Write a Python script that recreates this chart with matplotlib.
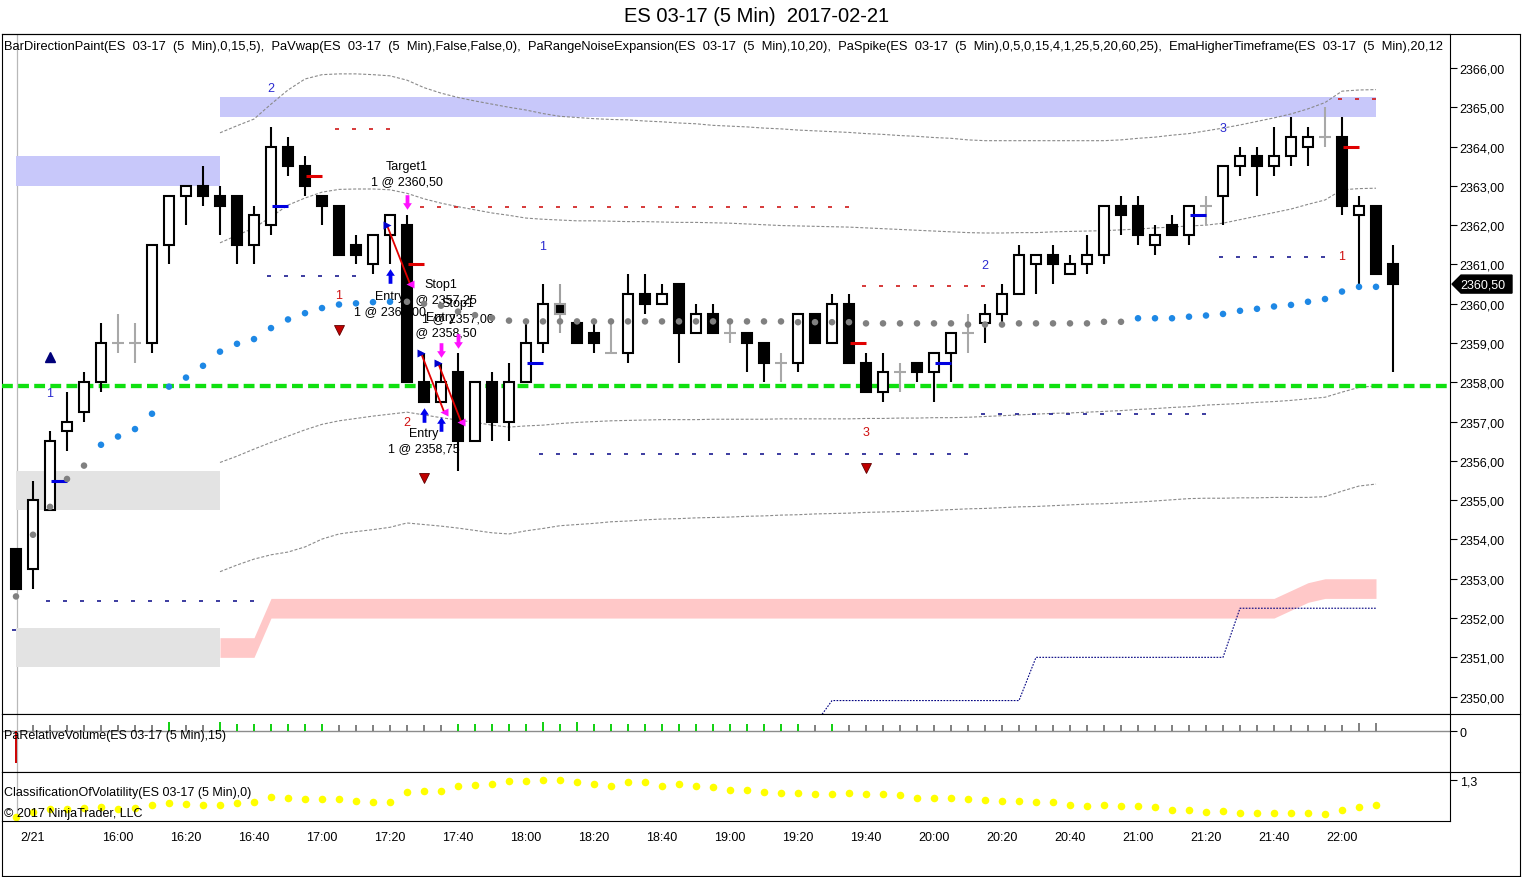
import matplotlib
matplotlib.use("Agg")
import matplotlib.pyplot as plt
import numpy as np
from matplotlib.patches import Rectangle, Polygon
from matplotlib.lines import Line2D
from matplotlib.path import Path
from matplotlib.transforms import blended_transform_factory
from matplotlib.ticker import FuncFormatter

plt.rcParams['font.family'] = ['Liberation Sans', 'DejaVu Sans']
plt.rcParams['lines.scale_dashes'] = False

# ---------------------------------------------------------------- texts
TITLE = "ES 03-17 (5 Min)  2017-02-21"
LEGEND_MAIN = ("BarDirectionPaint(ES  03-17  (5  Min),0,15,5),  PaVwap(ES  03-17  (5  Min),False,False,0),  "
               "PaRangeNoiseExpansion(ES  03-17  (5  Min),10,20),  "
               "PaSpike(ES  03-17  (5  Min),0,5,0,15,4,1,25,5,20,60,25),  "
               "EmaHigherTimeframe(ES  03-17  (5  Min),20,12")
LEGEND_VOL = "PaRelativeVolume(ES 03-17 (5 Min),15)"
LEGEND_VOLAT = "ClassificationOfVolatility(ES 03-17 (5 Min),0)"
COPYRIGHT = "\u00a9 2017 NinjaTrader, LLC"

# ---------------------------------------------------------------- time axis
time_tick_bars = [1, 6, 10, 14, 18, 22, 26, 30, 34, 38, 42, 46, 50, 54, 58, 62, 66, 70, 74, 78]
time_tick_labels = ['2/21', '16:00', '16:20', '16:40', '17:00', '17:20', '17:40', '18:00', '18:20',
                    '18:40', '19:00', '19:20', '19:40', '20:00', '20:20', '20:40', '21:00', '21:20',
                    '21:40', '22:00']

# ---------------------------------------------------------------- OHLC
opens = [2353.75, 2353.25, 2354.75, 2356.75, 2357.25, 2358.0, 2359.0, 2359.0, 2359.0, 2361.5,
         2362.75, 2363.0, 2362.75, 2362.75, 2361.5, 2362.0, 2364.0, 2363.5, 2362.75, 2362.5,
         2361.5, 2361.0, 2361.75, 2362.0, 2358.0, 2357.5, 2358.25, 2356.5, 2358.0, 2357.0,
         2358.0, 2359.0, 2360.0, 2359.5, 2359.25, 2358.75, 2358.75, 2360.25, 2360.0, 2360.5,
         2359.25, 2359.75, 2359.25, 2359.25, 2359.0, 2358.5, 2358.5, 2359.75, 2359.0, 2360.0,
         2358.5, 2357.75, 2358.25, 2358.5, 2358.25, 2358.75, 2359.25, 2359.5, 2359.75, 2360.25,
         2361.0, 2361.25, 2360.75, 2361.0, 2361.25, 2362.5, 2362.5, 2361.5, 2362.0, 2361.75,
         2362.5, 2362.75, 2363.5, 2363.75, 2363.5, 2363.75, 2364.0, 2364.25, 2364.25, 2362.25,
         2362.5, 2361.0]
highs = [2353.75, 2355.5, 2356.75, 2357.75, 2358.25, 2359.5, 2359.75, 2359.5, 2361.5, 2362.75,
         2363.0, 2363.5, 2363.0, 2362.75, 2362.5, 2364.5, 2364.25, 2363.75, 2362.75, 2362.5,
         2361.75, 2361.75, 2362.25, 2362.25, 2358.75, 2358.5, 2358.75, 2358.0, 2358.25, 2358.5,
         2359.5, 2360.5, 2360.5, 2359.5, 2359.5, 2359.5, 2360.75, 2360.75, 2360.5, 2360.5,
         2360.0, 2360.0, 2359.5, 2359.25, 2359.0, 2358.75, 2359.75, 2359.75, 2360.25, 2360.25,
         2358.75, 2358.75, 2358.5, 2358.5, 2358.75, 2359.25, 2359.75, 2360.0, 2360.5, 2361.5,
         2361.25, 2361.5, 2361.25, 2361.75, 2362.5, 2362.75, 2362.75, 2362.0, 2362.25, 2362.5,
         2362.75, 2363.5, 2364.0, 2364.0, 2364.5, 2364.75, 2364.5, 2365.0, 2364.75, 2362.75,
         2362.5, 2361.5]
lows = [2352.75, 2352.75, 2354.75, 2356.25, 2357.0, 2357.75, 2358.75, 2358.5, 2358.75, 2361.0,
        2362.0, 2362.5, 2361.75, 2361.0, 2361.0, 2361.75, 2363.25, 2362.75, 2362.0, 2361.25,
        2361.0, 2360.75, 2361.0, 2358.0, 2357.5, 2357.5, 2355.75, 2356.5, 2356.5, 2356.5,
        2358.0, 2358.75, 2359.25, 2359.0, 2358.75, 2358.75, 2358.5, 2359.75, 2360.0, 2358.5,
        2359.25, 2359.25, 2359.0, 2358.25, 2358.0, 2358.0, 2358.25, 2359.0, 2359.0, 2358.5,
        2357.75, 2357.5, 2357.75, 2358.0, 2357.5, 2358.0, 2358.75, 2359.0, 2359.5, 2360.25,
        2360.25, 2360.5, 2360.75, 2360.75, 2361.0, 2361.75, 2361.5, 2361.25, 2361.75, 2361.5,
        2362.0, 2362.0, 2363.25, 2362.75, 2363.25, 2363.5, 2363.5, 2364.0, 2362.25, 2360.5,
        2360.75, 2358.25]
closes = [2352.75, 2355.0, 2356.5, 2357.0, 2358.0, 2359.0, 2359.0, 2359.0, 2361.5, 2362.75,
          2363.0, 2362.75, 2362.5, 2361.5, 2362.25, 2364.0, 2363.5, 2363.0, 2362.5, 2361.25,
          2361.25, 2361.75, 2362.25, 2358.0, 2357.5, 2358.0, 2356.5, 2358.0, 2357.0, 2358.0,
          2359.0, 2360.0, 2359.75, 2359.0, 2359.0, 2358.75, 2360.25, 2360.0, 2360.25, 2359.25,
          2359.75, 2359.25, 2359.25, 2359.0, 2358.5, 2358.5, 2359.75, 2359.0, 2360.0, 2358.5,
          2357.75, 2358.25, 2358.25, 2358.25, 2358.75, 2359.25, 2359.25, 2359.75, 2360.25, 2361.25,
          2361.25, 2361.0, 2361.0, 2361.25, 2362.5, 2362.25, 2361.75, 2361.75, 2361.75, 2362.5,
          2362.5, 2363.5, 2363.75, 2363.5, 2363.75, 2364.25, 2364.25, 2364.25, 2362.5, 2362.5,
          2360.75, 2360.5]
gray_outline_bars = [32]

# ---------------------------------------------------------------- EMA dots (bars 0..80)
ema = [2352.55, 2354.12, 2354.83, 2355.54, 2355.88, 2356.41, 2356.62, 2356.81, 2357.20, 2357.89,
       2358.12, 2358.42, 2358.78, 2358.98, 2359.10, 2359.38, 2359.60, 2359.76, 2359.89, 2359.98,
       2360.01, 2360.04, 2360.05, 2360.05, 2360.00, 2359.95, 2359.80, 2359.71, 2359.64, 2359.57,
       2359.55, 2359.55, 2359.55, 2359.55, 2359.55, 2359.55, 2359.55, 2359.55, 2359.55, 2359.55,
       2359.55, 2359.55, 2359.55, 2359.55, 2359.55, 2359.55, 2359.53, 2359.53, 2359.53, 2359.53,
       2359.50, 2359.50, 2359.50, 2359.50, 2359.50, 2359.50, 2359.47, 2359.47, 2359.47, 2359.50,
       2359.50, 2359.50, 2359.50, 2359.50, 2359.54, 2359.54, 2359.63, 2359.63, 2359.63, 2359.67,
       2359.70, 2359.74, 2359.82, 2359.87, 2359.93, 2359.97, 2360.05, 2360.12, 2360.31, 2360.43,
       2360.43]
ema_rising = [0, 0, 0, 0, 0, 1, 1, 1, 1, 1, 1, 1, 1, 1, 1, 1, 1, 1, 1, 1,
              1, 1, 1, 0, 0, 0, 0, 0, 0, 0, 0, 0, 0, 0, 0, 0, 0, 0, 0, 0,
              0, 0, 0, 0, 0, 0, 0, 0, 0, 0, 0, 0, 0, 0, 0, 0, 0, 0, 0, 0,
              0, 0, 0, 0, 0, 0, 1, 1, 1, 1, 1, 1, 1, 1, 1, 1, 1, 1, 1, 1,
              1]

# ---------------------------------------------------------------- noise bands (bars 12..80)
band_first_bar = 12
band_top = [2364.35, 2364.53, 2364.70, 2365.08, 2365.44, 2365.72, 2365.83, 2365.85, 2365.85, 2365.83,
            2365.80, 2365.69, 2365.50, 2365.36, 2365.25, 2365.16, 2365.08, 2365.00, 2364.93, 2364.84,
            2364.77, 2364.74, 2364.71, 2364.69, 2364.68, 2364.65, 2364.63, 2364.60, 2364.58, 2364.54,
            2364.52, 2364.50, 2364.47, 2364.45, 2364.42, 2364.40, 2364.38, 2364.36, 2364.33, 2364.31,
            2364.28, 2364.26, 2364.23, 2364.21, 2364.17, 2364.15, 2364.15, 2364.15, 2364.15, 2364.15,
            2364.15, 2364.15, 2364.15, 2364.17, 2364.21, 2364.24, 2364.29, 2364.33, 2364.40, 2364.47,
            2364.55, 2364.64, 2364.73, 2364.83, 2364.96, 2365.12, 2365.41, 2365.44, 2365.45]
band_upper = [2361.55, 2361.74, 2361.93, 2362.21, 2362.51, 2362.69, 2362.84, 2362.91, 2362.92, 2362.92,
              2362.90, 2362.81, 2362.67, 2362.56, 2362.47, 2362.39, 2362.31, 2362.25, 2362.18, 2362.15,
              2362.13, 2362.11, 2362.11, 2362.10, 2362.09, 2362.09, 2362.08, 2362.07, 2362.07, 2362.06,
              2362.05, 2362.03, 2362.01, 2361.99, 2361.98, 2361.97, 2361.96, 2361.95, 2361.93, 2361.91,
              2361.89, 2361.87, 2361.85, 2361.83, 2361.81, 2361.80, 2361.80, 2361.81, 2361.81, 2361.83,
              2361.84, 2361.85, 2361.86, 2361.88, 2361.90, 2361.93, 2361.95, 2361.98, 2362.00, 2362.05,
              2362.14, 2362.23, 2362.32, 2362.41, 2362.53, 2362.64, 2362.90, 2362.93, 2362.94]
band_lower = [2355.96, 2356.12, 2356.30, 2356.47, 2356.63, 2356.79, 2356.93, 2357.02, 2357.08, 2357.14,
              2357.19, 2357.24, 2357.17, 2357.10, 2357.04, 2356.98, 2356.91, 2356.86, 2356.89, 2356.91,
              2356.95, 2356.98, 2357.00, 2357.02, 2357.03, 2357.04, 2357.05, 2357.05, 2357.05, 2357.06,
              2357.06, 2357.06, 2357.06, 2357.07, 2357.07, 2357.07, 2357.07, 2357.07, 2357.08, 2357.08,
              2357.09, 2357.09, 2357.10, 2357.10, 2357.11, 2357.13, 2357.15, 2357.17, 2357.19, 2357.21,
              2357.22, 2357.24, 2357.26, 2357.28, 2357.31, 2357.33, 2357.36, 2357.38, 2357.42, 2357.44,
              2357.46, 2357.49, 2357.51, 2357.54, 2357.58, 2357.62, 2357.75, 2357.87, 2357.91]
band_bottom = [2353.18, 2353.35, 2353.50, 2353.61, 2353.68, 2353.81, 2354.01, 2354.14, 2354.20, 2354.25,
               2354.31, 2354.42, 2354.38, 2354.34, 2354.29, 2354.23, 2354.17, 2354.14, 2354.22, 2354.28,
               2354.35, 2354.38, 2354.41, 2354.45, 2354.47, 2354.50, 2354.52, 2354.53, 2354.55, 2354.56,
               2354.57, 2354.59, 2354.60, 2354.62, 2354.63, 2354.65, 2354.66, 2354.67, 2354.69, 2354.70,
               2354.71, 2354.72, 2354.74, 2354.76, 2354.78, 2354.79, 2354.81, 2354.83, 2354.84, 2354.86,
               2354.88, 2354.90, 2354.91, 2354.93, 2354.95, 2354.98, 2355.01, 2355.04, 2355.05, 2355.05,
               2355.06, 2355.06, 2355.07, 2355.07, 2355.07, 2355.09, 2355.23, 2355.36, 2355.41]

# ---------------------------------------------------------------- zones
zone_start = [0, 0, 0, 12]
zone_end = [12, 12, 12, 80]
zone_low = [2363.0, 2354.75, 2350.75, 2364.75]
zone_high = [2363.75, 2355.75, 2351.75, 2365.25]
zone_kind = ['resist', 'support', 'support', 'resist']

# pink (VWAP-like) band as level segments
pink_seg_start = [12, 15, 75, 76, 77]
pink_seg_end = [14, 74, 75, 76, 80]
pink_seg_low = [2351.0, 2352.0, 2352.2, 2352.4, 2352.5]
pink_thickness = 0.5

# navy stepped dotted line segments
step_seg_start = [47, 48, 60, 72]
step_seg_end = [47, 59, 71, 80]
step_seg_level = [2349.3, 2349.9, 2351.0, 2352.25]

# per-bar hash levels
hash_start = [19, 24, 50, 78, 0, 2, 15, 31, 57, 71]
hash_end = [22, 49, 57, 80, 0, 14, 20, 56, 70, 77]
hash_price = [2364.45, 2362.45, 2360.46, 2365.21, 2351.70, 2352.44, 2360.71, 2356.18, 2357.19, 2361.18]
hash_kind = ['red', 'red', 'red', 'red', 'navy', 'navy', 'navy', 'navy', 'navy', 'navy']

# bar ticks (short horizontal marks right of bar)
tick_bar = [2, 15, 30, 54, 69, 17, 23, 49, 78]
tick_price = [2355.5, 2362.5, 2358.5, 2358.5, 2362.25, 2363.25, 2361.0, 2359.0, 2364.0]
tick_kind = ['blue', 'blue', 'blue', 'blue', 'blue', 'red', 'red', 'red', 'red']

# swing count labels
num_bar = [2, 15, 31, 57, 71, 19, 23, 50, 78]
num_price = [2357.73, 2365.49, 2361.48, 2360.99, 2364.47, 2360.22, 2356.99, 2356.73, 2361.22]
num_text = ['1', '2', '1', '2', '3', '1', '2', '3', '1']
num_kind = ['blue', 'blue', 'blue', 'blue', 'blue', 'red', 'red', 'red', 'red']

# signal triangles
tri_bar = [2, 19, 24, 50]
tri_price = [2358.65, 2359.34, 2355.56, 2355.82]
tri_dir = ['up', 'down', 'down', 'down']

# green horizontal level
green_level = 2357.9

# trades
entry_bar = [22, 24, 25]
entry_price = [2362.0, 2358.75, 2358.5]
entry_label_price = [2360.20, 2356.71, 2359.66]
entry_arrow_tip = [2360.87, 2357.35, 2357.11]
exit_bar = [23, 25, 26]
exit_price = [2360.5, 2357.25, 2357.0]
exit_name = ['Target1', 'Stop1', 'Stop1']
exit_label_price = [2363.51, 2360.50, 2360.02]
exit_arrow_tip = [2362.41, 2358.66, 2358.89]

# relative volume (bars 0..80)
rel_vol = [-1.88, 0.33, 0.33, 0.33, 0.33, 0.33, 0.33, 0.33, 0.33, 0.52,
           0.33, 0.33, 0.52, 0.43, 0.43, 0.43, 0.43, 0.43, 0.43, 0.33,
           0.33, 0.33, 0.33, 0.33, 0.33, 0.33, 0.43, 0.43, 0.43, 0.43,
           0.43, 0.52, 0.43, 0.52, 0.43, 0.43, 0.43, 0.43, 0.43, 0.43,
           0.43, 0.43, 0.43, 0.43, 0.43, 0.43, 0.43, 0.33, 0.43, 0.33,
           0.33, 0.33, 0.33, 0.33, 0.33, 0.33, 0.33, 0.33, 0.33, 0.33,
           0.33, 0.33, 0.33, 0.33, 0.33, 0.33, 0.33, 0.33, 0.33, 0.33,
           0.33, 0.33, 0.33, 0.33, 0.33, 0.33, 0.33, 0.33, 0.33, 0.47,
           0.47]
rel_vol_kind = ['low'] + ['flat'] * 8 + ['high'] + ['flat', 'flat'] + ['high'] * 7 + ['flat'] * 7 \
    + ['high'] * 21 + ['flat', 'high'] + ['flat'] * 32

# volatility classification (bars 0..80)
volat = [0.927, 0.98, 1.01, 1.01, 1.02, 1.03, 1.01, 1.02, 1.05, 1.07,
         1.06, 1.05, 1.05, 1.07, 1.083, 1.133, 1.123, 1.113, 1.113, 1.113,
         1.093, 1.083, 1.083, 1.183, 1.193, 1.193, 1.243, 1.253, 1.26, 1.293,
         1.293, 1.303, 1.30, 1.283, 1.26, 1.243, 1.277, 1.277, 1.243, 1.26,
         1.243, 1.233, 1.203, 1.20, 1.183, 1.17, 1.17, 1.16, 1.16, 1.17,
         1.16, 1.16, 1.15, 1.12, 1.12, 1.12, 1.11, 1.10, 1.093, 1.093,
         1.083, 1.083, 1.05, 1.043, 1.05, 1.043, 1.043, 1.033, 1.003, 1.003,
         0.977, 0.993, 0.97, 0.97, 0.97, 0.97, 0.97, 0.96, 1.003, 1.033,
         1.05]

# ---------------------------------------------------------------- figure
W, H = 1522.0, 878.0
fig = plt.figure(figsize=(W / 100, H / 100), dpi=100)


def fbox(x0, y0, x1, y1):
    return [x0 / W, 1 - y1 / H, (x1 - x0) / W, (y1 - y0) / H]


ax = fig.add_axes(fbox(2, 35, 1450, 715))
axv = fig.add_axes(fbox(2, 715, 1450, 773))
axc = fig.add_axes(fbox(2, 773, 1450, 822))

XMIN, XMAX = -14 / 17, 1434 / 17
for a in (ax, axv, axc):
    a.set_xlim(XMIN, XMAX)
    a.set_facecolor('white')
    for s in a.spines.values():
        s.set_linewidth(0.8)
        s.set_color('black')
    a.axvline(0.05, color='#b8b8b8', lw=0.9, zorder=0.5)
    a.yaxis.tick_right()
    a.tick_params(axis='y', which='both', direction='out', length=5, width=0.8,
                  labelsize=9, pad=2, left=False, right=True)
    a.tick_params(axis='x', which='both', bottom=False, top=False, labelbottom=False)

ax.set_ylim(2349.558, 2366.865)
ax.set_yticks(np.arange(2350, 2367, 1))
ax.yaxis.set_major_formatter(FuncFormatter(lambda v, p: f"{v:.2f}".replace('.', ',')))

# zones
zone_colors = {'resist': '#c8c8fa', 'support': '#e3e3e3'}
for s, e, lo, hi, k in zip(zone_start, zone_end, zone_low, zone_high, zone_kind):
    ax.add_patch(Rectangle((s, lo), e - s, hi - lo, fc=zone_colors[k], ec='none', zorder=1))

# pink band
pink_x, pink_lo = [], []
for s, e, lv in zip(pink_seg_start, pink_seg_end, pink_seg_low):
    for b in range(s, e + 1):
        pink_x.append(b)
        pink_lo.append(lv)
pink_lo = np.array(pink_lo)
ax.fill_between(pink_x, pink_lo, pink_lo + pink_thickness, color='#ffc8c8', lw=0, zorder=1)

# navy stepped dotted line
st_x, st_y = [], []
for s, e, lv in zip(step_seg_start, step_seg_end, step_seg_level):
    for b in range(s, e + 1):
        st_x.append(b)
        st_y.append(lv)
ax.plot(st_x, st_y, color='#000080', lw=0.8, ls=(0, (1.2, 1.0)), zorder=2)

# bands
bx = np.arange(band_first_bar, band_first_bar + len(band_top))
for arr in (band_top, band_upper, band_lower, band_bottom):
    ax.plot(bx, arr, color='#8a8a8a', lw=0.8, ls=(0, (2.2, 1.3)), zorder=2)

# green level
gl = ax.axhline(green_level, color='#10e010', lw=3.1, zorder=3)
gl.set_dashes((7.8, 3.8))

# hash levels
hash_colors = {'red': '#d01818', 'navy': '#1a1a90'}
for s, e, p, k in zip(hash_start, hash_end, hash_price, hash_kind):
    xs = np.arange(s, e + 1)
    ax.plot(xs - 0.1, [p] * len(xs), ls='none', marker='_', ms=3.5, mew=1.2,
            color=hash_colors[k], zorder=3)

# trade labels (behind candles)
for b, p, lp in zip(entry_bar, entry_price, entry_label_price):
    ax.text(b, lp, 'Entry', ha='center', va='center', fontsize=9, zorder=3.2)
    ax.text(b, lp - 0.38, '1 @ ' + f"{p:.2f}".replace('.', ','), ha='center', va='center',
            fontsize=9, zorder=3.2)
for b, p, nm, lp in zip(exit_bar, exit_price, exit_name, exit_label_price):
    ax.text(b, lp, nm, ha='center', va='center', fontsize=9, zorder=3.2)
    ax.text(b, lp - 0.38, '1 @ ' + f"{p:.2f}".replace('.', ','), ha='center', va='center',
            fontsize=9, zorder=3.2)

# candles
bw = 0.59
for i in range(len(opens)):
    o, h, l, c = opens[i], highs[i], lows[i], closes[i]
    if i in gray_outline_bars:
        ax.vlines(i, l, h, color='#a0a0a0', lw=1.5, zorder=4)
        ax.add_patch(Rectangle((i - bw / 2, min(o, c)), bw, abs(o - c), fc='black', ec='#a0a0a0',
                               lw=1.5, zorder=4.2))
    elif o == c:
        ax.vlines(i, l, h, color='#a8a8a8', lw=1.5, zorder=4)
        ax.hlines(o, i - 0.36, i + 0.36, color='#a8a8a8', lw=1.5, zorder=4)
    else:
        ax.vlines(i, l, h, color='black', lw=1.5, zorder=4)
        fc = 'white' if c > o else 'black'
        ax.add_patch(Rectangle((i - bw / 2, min(o, c)), bw, abs(c - o), fc=fc, ec='black',
                               lw=1.5, zorder=4.2))

# bar ticks
tick_colors = {'blue': '#0000e0', 'red': '#e00000'}
for b, p, k in zip(tick_bar, tick_price, tick_kind):
    ax.hlines(p, b + 0.05, b + 1.0, color=tick_colors[k], lw=2.2, zorder=5)

# ema dots
ema_x = np.arange(len(ema))
ema_c = ['#1e88e5' if r else '#808080' for r in ema_rising]
ax.scatter(ema_x, ema, s=22, c=ema_c, linewidths=0, zorder=6)

# swing numbers
num_colors = {'blue': '#2a2ad0', 'red': '#d01010'}
for b, p, t, k in zip(num_bar, num_price, num_text, num_kind):
    ax.text(b, p, t, ha='center', va='center', fontsize=9, color=num_colors[k], zorder=6)

# triangles
for b, p, d in zip(tri_bar, tri_price, tri_dir):
    if d == 'up':
        ax.plot(b, p, marker='^', ms=7.5, color='#00007a', mec='#00007a', zorder=6)
    else:
        ax.plot(b, p, marker='v', ms=7.5, color='#c00000', mec='#600000', mew=0.6, zorder=6)

# arrows
up_arrow = Path([(-0.13, -0.5), (0.13, -0.5), (0.13, 0.05), (0.3, 0.05), (0.0, 0.5),
                 (-0.3, 0.05), (-0.13, 0.05), (-0.13, -0.5)],
                [Path.MOVETO] + [Path.LINETO] * 6 + [Path.CLOSEPOLY])
down_arrow = Path([(x, -y) for x, y in up_arrow.vertices], up_arrow.codes)
for b, tip in zip(entry_bar, entry_arrow_tip):
    ax.plot(b, tip - 0.17, marker=up_arrow, ms=10.5, color='#0000ee', mec='none', zorder=6)
for b, tip in zip(exit_bar, exit_arrow_tip):
    ax.plot(b, tip + 0.17, marker=down_arrow, ms=10.5, color='#ff10ff', mec='none', zorder=6)

# executions and connecting lines
for eb, ep, xb, xp in zip(entry_bar, entry_price, exit_bar, exit_price):
    ax.plot([eb - 0.18, xb + 0.18], [ep, xp], color='#e00000', lw=1.3, zorder=6)
    ax.plot(eb - 0.18, ep, marker='>', ms=5.5, color='#0000cc', mec='none', zorder=6.5)
    ax.plot(xb + 0.18, xp, marker='<', ms=5.5, color='#ff10ff', mec='none', zorder=6.5)

# last price marker
last = closes[-1]
bt = blended_transform_factory(ax.transAxes, ax.transData)
x0 = (1452 - 2) / 1448
x1 = (1461 - 2) / 1448
x2 = (1512 - 2) / 1448
hh = 9 / 39.29
ax.add_patch(Polygon([(x0, last), (x1, last + hh), (x2, last + hh), (x2, last - hh), (x1, last - hh)],
                     closed=True, transform=bt, fc='black', ec='black', clip_on=False, zorder=10))
ax.text((1483 - 2) / 1448, last, f"{last:.2f}".replace('.', ','), transform=bt, ha='center',
        va='center', color='white', fontsize=9, clip_on=False, zorder=11)

# legend texts
ax.text(2 / 1448, (715 - 47) / 680, LEGEND_MAIN, transform=ax.transAxes, ha='left', va='center',
        fontsize=9.28, clip_on=True, zorder=12)

# ---------------------------------------------------------------- relative volume panel
axv.set_ylim(-2.4, 1.0)
axv.axhline(0, color='#8c8c8c', lw=1.0, zorder=1)
vol_colors = {'low': '#cc0000', 'flat': '#808080', 'high': '#10d010'}
vx = np.arange(len(rel_vol))
axv.vlines(vx, 0, rel_vol, colors=[vol_colors[k] for k in rel_vol_kind], lw=1.4, zorder=2)
axv.set_yticks([0])
axv.set_yticklabels(['0'])
axv.text(2 / 1448, (773 - 736) / 58, LEGEND_VOL, transform=axv.transAxes, ha='left', va='center',
         fontsize=9, zorder=3)

# ---------------------------------------------------------------- volatility panel
axc.set_ylim(0.89, 1.38)
cx = np.arange(len(volat))
axc.scatter(cx, volat, s=30, c='#ffff00', linewidths=0, zorder=2)
axc.set_yticks([1.3])
axc.set_yticklabels(['1,3'])
axc.text(2 / 1448, (822 - 793) / 49, LEGEND_VOLAT, transform=axc.transAxes, ha='left', va='center',
         fontsize=9, zorder=3)
axc.text(2 / 1448, (822 - 814) / 49, COPYRIGHT, transform=axc.transAxes, ha='left', va='center',
         fontsize=9, zorder=3)
axc.set_xticks(time_tick_bars)
axc.set_xticklabels(time_tick_labels)
axc.tick_params(axis='x', bottom=True, labelbottom=True, length=0, pad=7, labelsize=9)

# ---------------------------------------------------------------- title and frame
fig.text(757 / W, 1 - 17 / H, TITLE, ha='center', va='center', fontsize=14.5)


def fline(xa, ya, xb, yb):
    fig.add_artist(Line2D([xa / W, xb / W], [1 - ya / H, 1 - yb / H], transform=fig.transFigure,
                          color='black', lw=0.8))


fline(2, 35, 1520, 35)
fline(1450, 715, 1520, 715)
fline(1450, 773, 1520, 773)
fline(1520, 35, 1520, 877)
fline(2, 877, 1520, 877)
fline(2, 822, 2, 877)

fig.savefig('out.png', dpi=100, facecolor='white')
